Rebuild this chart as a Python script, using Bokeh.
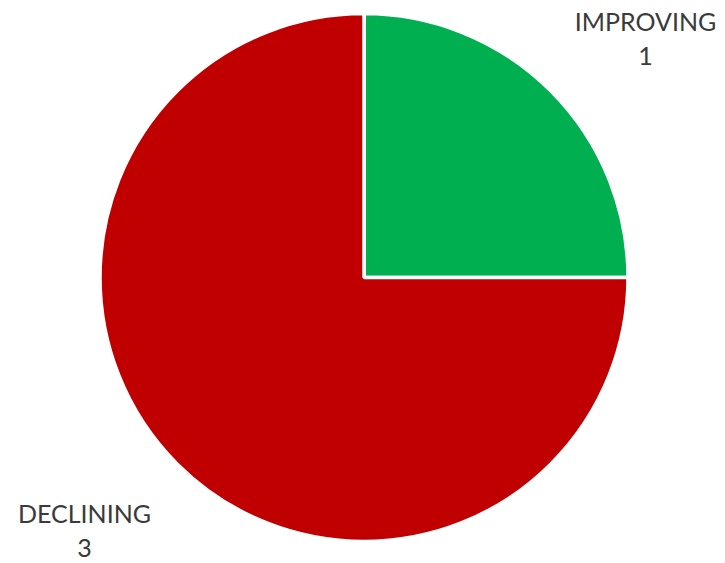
import numpy as np
from bokeh.plotting import figure
from bokeh.models import ColumnDataSource, Range1d
from bokeh.core.properties import value
from bokeh.embed import file_html
from bokeh.resources import INLINE

categories = ["IMPROVING", "DECLINING"]
counts = [1, 3]
colors = ["#00B050", "#C00000"]

W, H = 725, 563
p = figure(width=W, height=H, output_backend="svg", toolbar_location=None,
           x_range=Range1d(0, W), y_range=Range1d(0, H), min_border=0,
           outline_line_color=None)
p.axis.visible = False
p.grid.visible = False
p.background_fill_color = "white"
p.border_fill_color = "white"

cx, cy, r = 363.5, H - 277, 264
vals = np.array(counts, dtype=float)
frac = vals / vals.sum()
ends = np.pi / 2 - 2 * np.pi * np.cumsum(frac)
starts = np.concatenate([[np.pi / 2], ends[:-1]])

src = ColumnDataSource(dict(start=starts, end=ends, color=colors))
p.wedge(x=cx, y=cy, radius=r, start_angle="start", end_angle="end",
        direction="clock", fill_color="color", line_color="white",
        line_width=3.5, source=src)

# label anchors (screen positions)
lx = [645, 84]
ly = [H - 20, H - 512]
for i in range(len(categories)):
    p.text(x=[lx[i]], y=[ly[i]], text=[categories[i]], text_align="center",
           text_baseline="middle", text_font=value("Lato"), text_font_size="25px",
           text_color="#3a3a3a")
    p.text(x=[lx[i]], y=[ly[i] - 35], text=[str(counts[i])], text_align="center",
           text_baseline="middle", text_font=value("Lato"), text_font_size="25px",
           text_color="#3a3a3a")

open("out.html", "w").write(file_html(p, INLINE))
